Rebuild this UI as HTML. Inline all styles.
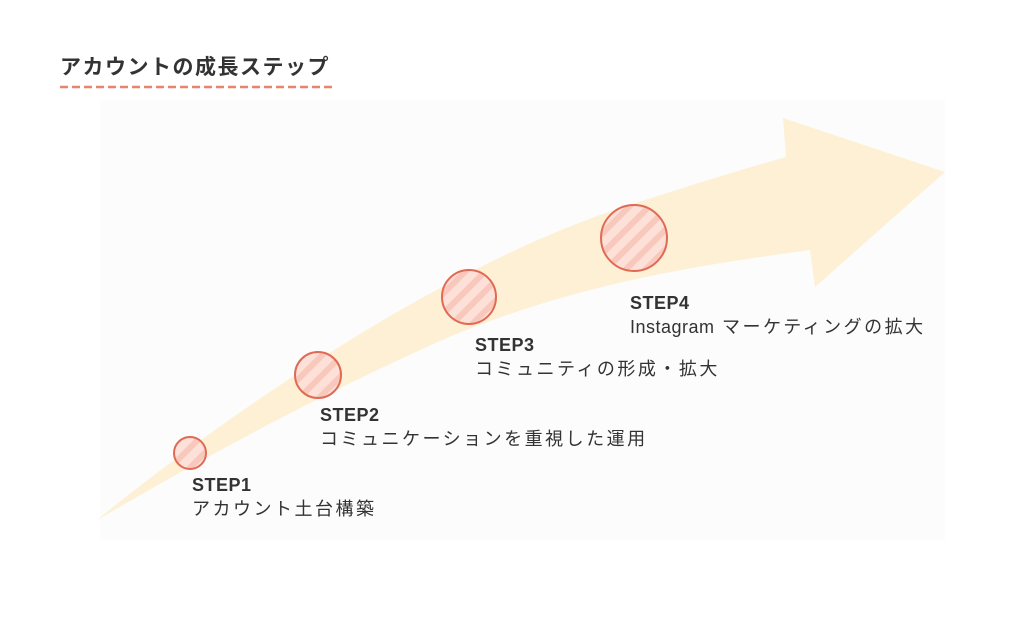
<!DOCTYPE html>
<html><head><meta charset="utf-8"><style>
html,body{margin:0;padding:0;background:#fff;}
body{width:1024px;height:622px;overflow:hidden;}
text{font-family:"Liberation Sans","Noto Sans CJK JP",sans-serif;fill:#333;}
</style></head><body>
<svg width="1024" height="622" viewBox="0 0 1024 622" xmlns="http://www.w3.org/2000/svg">
<defs>
<pattern id="st" patternUnits="userSpaceOnUse" width="14" height="14" patternTransform="rotate(45)">
<rect width="14" height="14" fill="#fde0d8"/>
<rect width="6" height="14" fill="#f8c8bc"/>
</pattern>
</defs>
<rect x="100" y="100" width="845" height="440" fill="#fcfcfc"/>
<text x="60" y="74" font-size="21" font-weight="bold" letter-spacing="1.5" fill="#2a2a2a">アカウントの成長ステップ</text>
<line x1="60" y1="87" x2="334" y2="87" stroke="#e8846e" stroke-width="2.5" stroke-dasharray="8,4"/>
<path d="M97,520 C220,420 420,280 600,215 C680,188 740,170 786,157 L783,118 L945,172 L815,287 L810,250 C700,265 560,285 420,350 C300,405 200,460 97,520 Z" fill="#fdf0d5"/>
<g stroke="#e06a54" stroke-width="2" fill="url(#st)">
<circle cx="190" cy="453" r="16"/>
<circle cx="318" cy="375" r="23"/>
<circle cx="469" cy="297" r="27"/>
<circle cx="634" cy="238" r="33"/>
</g>
<g font-size="18" letter-spacing="2.5">
<text x="192" y="491" font-weight="bold" letter-spacing="0.5">STEP1</text>
<text x="192" y="515">アカウント土台構築</text>
<text x="320" y="421" font-weight="bold" letter-spacing="0.5">STEP2</text>
<text x="320" y="445">コミュニケーションを重視した運用</text>
<text x="475" y="351" font-weight="bold" letter-spacing="0.5">STEP3</text>
<text x="475" y="375">コミュニティの形成・拡大</text>
<text x="630" y="309" font-weight="bold" letter-spacing="0.5">STEP4</text>
<text x="630" y="333"><tspan letter-spacing="0.5">Instagram</tspan> マーケティングの拡大</text>
</g>
</svg>
</body></html>
